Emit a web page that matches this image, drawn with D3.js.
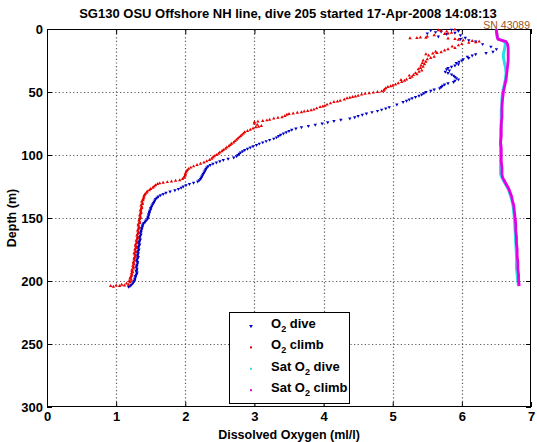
<!DOCTYPE html>
<html><head><meta charset="utf-8">
<script src="https://cdn.jsdelivr.net/npm/d3@7"></script>
<style>
html,body{margin:0;padding:0;background:#fff;}
text{font-family:"Liberation Sans",Arial,Helvetica,sans-serif;}
</style></head>
<body>
<svg id="chart" width="537" height="442"></svg>
<script>
// ---------------- DATA ----------------
const titleText = "SG130 OSU Offshore NH line, dive 205 started 17-Apr-2008 14:08:13";
const serialText = "SN 43089";
const xLabel = "Dissolved Oxygen (ml/l)";
const yLabel = "Depth (m)";
const xTicks = [0,1,2,3,4,5,6,7];
const yTicks = [0,50,100,150,200,250,300];
const legendNames = ["dive","climb","Sat dive","Sat climb"];

// [depth (m), O2 (ml/l)]
const o2Dive = [
 [0.5,5.85],[1,5.55],[1.5,5.95],[2,5.7],[2.5,5.62],[3,5.9],[3.5,5.5],[4,5.78],[5,5.98],[6,5.66],
 [7,6.05],[8,5.98],[9,6.1],[10,6.2],[12,6.3],[14,6.42],[16,6.5],[18,6.45],[19,6.35],[20,6.2],
 [21,6.15],[22,6.08],[23,6.1],[24,6.02],[25,6.0],[26,5.96],[27,5.92],[28,5.95],[29,5.9],[30,5.85],
 [31,5.8],[32,5.78],[33,5.82],[34,5.76],[35,5.8],[36,5.85],[37,5.88],[38,5.9],[39,5.92],[40,5.95],
 [41,5.9],[42,5.88],[43,5.8],[44,5.75],[45,5.72],[46,5.7],[47,5.68],[48,5.6],[49,5.55],[50,5.48],
 [51,5.45],[52,5.42],[53,5.38],[54,5.33],[55,5.28],[56,5.24],[57,5.2],[58,5.15],[60,5.06],[62,4.95],
 [63,4.9],[64,4.84],[65,4.78],[66,4.7],[67,4.62],[68,4.56],[69,4.5],[70,4.45],[71,4.38],[72,4.25],
 [73,4.15],[74,4.06],[75,3.98],[76,3.88],[77,3.78],[78,3.68],[79,3.6],[80,3.54],[81,3.5],[82,3.46],
 [83,3.42],[84,3.38],[85,3.35],[86,3.32],[87,3.28],[88,3.22],[89,3.17],[90,3.12],[91,3.07],[92,3.03],
 [93,2.98],[94,2.94],[95,2.9],[96,2.86],[97,2.83],[98,2.8],[99,2.78],[100,2.76],[101,2.74],[102,2.7],
 [103,2.62],[104,2.55],[105,2.5],[106,2.45],[107,2.4],[108,2.36],[109,2.33],[110,2.31],[111,2.3],[112,2.29],
 [113,2.28],[114,2.27],[115,2.26],[116,2.25],[117,2.24],[118,2.23],[119,2.22],[120,2.2],[121,2.18],[122,2.12],
 [123,2.06],[124,2.01],[125,1.97],[126,1.94],[127,1.9],[128,1.85],[129,1.78],[130,1.72],[131,1.68],[132,1.64],
 [133,1.61],[134,1.59],[135,1.57],[136,1.56],[137,1.55],[138,1.54],[139,1.53],[140,1.52],[141,1.51],[142,1.5],
 [143,1.5],[144,1.49],[145,1.48],[146,1.48],[147,1.47],[148,1.47],[149,1.46],[150,1.46],[151,1.45],[152,1.43],
 [153,1.42],[154,1.4],[155,1.39],[156,1.38],[157,1.38],[158,1.37],[159,1.37],[160,1.36],[161,1.36],[162,1.35],
 [163,1.36],[164,1.35],[165,1.34],[166,1.34],[167,1.35],[168,1.34],[169,1.33],[170,1.33],[171,1.34],[172,1.33],
 [173,1.32],[174,1.32],[175,1.33],[176,1.32],[177,1.31],[178,1.32],[179,1.31],[180,1.31],[181,1.32],[182,1.31],
 [183,1.3],[184,1.3],[185,1.31],[186,1.31],[187,1.3],[188,1.3],[189,1.29],[190,1.3],[191,1.3],[192,1.29],
 [193,1.3],[194,1.3],[195,1.29],[196,1.28],[197,1.28],[198,1.27],[199,1.27],[200,1.26],[201,1.25],[202,1.24],
 [203,1.22],[204,1.2],[204.5,1.18]
];

const o2Climb = [
 [204,0.92],[204.5,0.96],[203.5,1.0],[204,1.05],[203,1.08],[203.5,1.12],[202,1.15],[203,1.18],[201,1.2],[200,1.19],
 [199,1.22],[198,1.2],[197,1.21],[196,1.22],[195,1.23],[194,1.22],[193,1.24],[192,1.23],[191,1.23],[190,1.25],
 [189,1.25],[188,1.24],[187,1.26],[186,1.25],[185,1.25],[184,1.27],[183,1.26],[182,1.26],[181,1.27],[180,1.28],
 [179,1.27],[178,1.26],[177,1.28],[176,1.28],[175,1.27],[174,1.29],[173,1.29],[172,1.28],[171,1.28],[170,1.3],
 [169,1.3],[168,1.29],[167,1.3],[166,1.31],[165,1.31],[164,1.3],[163,1.31],[162,1.32],[161,1.32],[160,1.31],
 [159,1.32],[158,1.33],[157,1.33],[156,1.32],[155,1.32],[154,1.34],[153,1.34],[152,1.33],[151,1.34],[150,1.35],
 [149,1.35],[148,1.34],[147,1.35],[146,1.36],[145,1.36],[144,1.35],[143,1.36],[142,1.37],[141,1.37],[140,1.36],
 [139,1.38],[138,1.38],[137,1.37],[136,1.39],[135,1.39],[134,1.4],[133,1.4],[132,1.41],[131,1.42],[130,1.44],
 [129,1.45],[128,1.48],[127,1.5],[126,1.53],[125,1.55],[124,1.57],[123,1.6],[122.5,1.63],[122,1.68],[121.5,1.74],
 [121,1.8],[120.5,1.86],[120,1.92],[119,1.96],[118,1.98],[117,1.99],[116,2.0],[115,2.0],[114,2.01],[113,2.02],
 [112,2.03],[111,2.05],[110,2.08],[109,2.12],[108,2.17],[107,2.22],[106,2.27],[105,2.31],[104,2.35],[103,2.38],
 [102,2.4],[101,2.42],[100,2.45],[99,2.48],[98,2.5],[97,2.53],[96,2.55],[95,2.58],[94,2.6],[93,2.63],
 [92,2.65],[91,2.67],[90,2.7],[89,2.72],[88,2.74],[87,2.76],[86,2.78],[85,2.8],[84,2.82],[83,2.84],
 [82,2.86],[81,2.9],[80,2.94],[79,2.98],[78,3.02],[77.5,3.06],[77,3.1],[76,3.04],[75,3.0],[74,3.0],
 [73.5,3.05],[73,3.12],[72.5,3.18],[72,3.22],[71,3.28],[70.5,3.34],[70,3.4],[69,3.44],[68,3.47],[67.5,3.5],
 [67,3.56],[66.5,3.62],[66,3.68],[65.5,3.72],[65,3.77],[64.5,3.82],[64,3.86],[63,3.9],[62,3.95],[61.5,3.99],
 [61,4.02],[60,4.05],[59,4.1],[58,4.15],[57.5,4.2],[57,4.24],[56,4.3],[55,4.34],[54.5,4.38],[54,4.42],
 [53.5,4.46],[53,4.5],[52,4.55],[51.5,4.6],[51,4.66],[50.5,4.72],[50,4.78],[49.5,4.84],[49,4.87],[48,4.88],
 [47,4.9],[46,4.93],[45.5,4.97],[45,5.0],[44,5.04],[43,5.08],[42,5.13],[41,5.17],[40.5,5.12],[40,5.2],
 [39,5.25],[38,5.28],[37,5.24],[36.5,5.3],[36,5.35],[35,5.33],[34,5.38],[33,5.42],[32,5.37],[31,5.4],
 [30,5.44],[29,5.41],[28,5.46],[27,5.43],[26,5.48],[25,5.44],[24,5.5],[23,5.55],[22,5.6],[21,5.52],
 [20,5.48],[19.5,5.58],[19,5.64],[18.5,5.7],[18,5.62],[17,5.75],[16,5.8],[15,5.9],[14,5.86],[13,5.95],
 [12,6.0],[11,6.1],[10.5,6.2],[10,6.25],[9.5,6.15],[9,6.02],[8.5,5.95],[8,5.9],[7.5,5.8],[7,5.48],
 [7.2,5.35],[7.4,5.25],[6.8,5.4],[6,5.5],[5,5.6],[4,5.75],[3.5,5.8],[3,5.85],[2,5.78],[1.5,5.7],
 [1,5.66],[0.5,5.9]
];

const satDive = [
 [0,6.5],[4,6.5],[8,6.53],[10,6.62],[12,6.63],[15,6.62],[18,6.61],[20,6.6],[22,6.6],[25,6.61],
 [28,6.62],[30,6.63],[35,6.64],[40,6.63],[45,6.61],[50,6.59],[55,6.58],[60,6.58],[65,6.57],[70,6.57],
 [75,6.57],[80,6.56],[85,6.56],[90,6.56],[95,6.56],[100,6.56],[105,6.56],[110,6.56],[115,6.56],[118,6.58],
 [121,6.61],[124,6.64],[127,6.67],[130,6.69],[135,6.72],[140,6.74],[150,6.76],[160,6.77],[170,6.78],[180,6.79],
 [190,6.79],[200,6.81],[204,6.82]
];

const satClimb = [
 [0,6.5],[2,6.5],[4,6.51],[6,6.51],[8,6.52],[9,6.58],[10,6.64],[12,6.66],[15,6.67],[20,6.67],
 [25,6.67],[30,6.66],[35,6.65],[40,6.64],[45,6.62],[50,6.6],[55,6.59],[60,6.58],[65,6.58],[70,6.58],
 [75,6.57],[80,6.57],[85,6.57],[90,6.56],[95,6.57],[100,6.57],[105,6.57],[110,6.58],[115,6.58],[118,6.59],
 [121,6.62],[124,6.65],[127,6.68],[130,6.7],[133,6.72],[136,6.73],[140,6.75],[145,6.76],[150,6.77],[155,6.78],
 [160,6.78],[165,6.79],[170,6.79],[175,6.8],[180,6.8],[185,6.81],[190,6.81],[195,6.82],[200,6.82],[204,6.83]
];

// ---------------- DRAW ----------------
const svg = d3.select("#chart");
const L = 47, R = 531, T = 29, B = 407;
const x = d3.scaleLinear().domain([0,7]).range([L,R]);
const y = d3.scaleLinear().domain([0,300]).range([T,B]);

const colDive = "#0000c8", colClimb = "#e80000", colSatDive = "#22e0e6", colSatClimb = "#e600e6";

svg.append("rect").attr("x",0).attr("y",0).attr("width",537).attr("height",442).attr("fill","#fff");

// grid: dotted lines at each tick position
const grid = svg.append("g").attr("class","grid");
grid.selectAll("line.gx").data(xTicks.filter(t=>t>0&&t<7)).join("line").attr("class","gx")
  .attr("x1",d=>Math.round(x(d))+0.5).attr("x2",d=>Math.round(x(d))+0.5).attr("y1",T+1).attr("y2",B-1)
  .attr("stroke","#5a5a5a").attr("stroke-width",1.2).attr("stroke-dasharray","1.2 2.4");
grid.selectAll("line.gy").data(yTicks.filter(t=>t>0&&t<300)).join("line").attr("class","gy")
  .attr("y1",d=>Math.round(y(d))+0.5).attr("y2",d=>Math.round(y(d))+0.5).attr("x1",L+1).attr("x2",R-1)
  .attr("stroke","#5a5a5a").attr("stroke-width",1.2).attr("stroke-dasharray","1.2 2.4");

// axes
function styleAxis(g){
  g.select(".domain").remove();
  g.selectAll(".tick line").attr("stroke","#000");
  g.selectAll(".tick text").attr("font-size","13px").attr("font-weight","bold").attr("fill","#000")
    .attr("font-family","'Liberation Sans',Arial,sans-serif");
}
svg.append("g").attr("transform",`translate(0,${B})`)
  .call(d3.axisBottom(x).tickValues(xTicks).tickFormat(d3.format("d")).tickSizeInner(-5).tickSizeOuter(0).tickPadding(5))
  .call(styleAxis);
svg.append("g").attr("transform",`translate(0,${T})`)
  .call(d3.axisTop(x).tickValues(xTicks).tickFormat("").tickSizeInner(-5).tickSizeOuter(0))
  .call(styleAxis);
svg.append("g").attr("transform",`translate(${L},0)`)
  .call(d3.axisLeft(y).tickValues(yTicks).tickFormat(d3.format("d")).tickSizeInner(-5).tickSizeOuter(0).tickPadding(4))
  .call(styleAxis);
svg.append("g").attr("transform",`translate(${R},0)`)
  .call(d3.axisRight(y).tickValues(yTicks).tickFormat("").tickSizeInner(-5).tickSizeOuter(0))
  .call(styleAxis);

// frame
svg.append("rect").attr("x",L+0.5).attr("y",T+0.5).attr("width",R-L-1).attr("height",B-T-1)
  .attr("fill","none").attr("stroke","#000").attr("stroke-width",1);

// data
const plot = svg.append("g");
const tri = d3.symbol().type(d3.symbolTriangle).size(5);
plot.selectAll("path.dive").data(o2Dive).join("path").attr("class","dive")
  .attr("d",tri).attr("fill",colDive)
  .attr("transform",d=>`translate(${x(d[1])},${y(d[0])}) rotate(180)`);
plot.selectAll("path.climb").data(o2Climb).join("path").attr("class","climb")
  .attr("d",tri).attr("fill",colClimb)
  .attr("transform",d=>`translate(${x(d[1])},${y(d[0])})`);

const line = d3.line().x(d=>x(d[1])).y(d=>y(d[0]));
plot.append("path").datum(satDive).attr("d",line).attr("fill","none")
  .attr("stroke",colSatDive).attr("stroke-width",3).attr("stroke-linejoin","round");
plot.append("path").datum(satClimb).attr("d",line).attr("fill","none")
  .attr("stroke",colSatClimb).attr("stroke-width",2.8).attr("stroke-linejoin","round");

// title
svg.append("text").attr("x",(L+R)/2 - 1).attr("y",18).attr("text-anchor","middle")
  .attr("font-size","13px").attr("font-weight","bold").text(titleText);
svg.append("text").attr("x",R-1).attr("y",29).attr("text-anchor","end")
  .attr("font-size","10.5px").attr("fill","#a0521e").text(serialText);

// axis titles
svg.append("text").attr("x",(L+R)/2).attr("y",439).attr("text-anchor","middle")
  .attr("font-size","12.5px").attr("font-weight","bold").text(xLabel);
svg.append("text").attr("transform",`translate(16,${(T+B)/2}) rotate(-90)`).attr("text-anchor","middle")
  .attr("font-size","12.5px").attr("font-weight","bold").text(yLabel);

// legend
const lg = svg.append("g");
lg.append("rect").attr("x",229.5).attr("y",312.5).attr("width",120).attr("height",91)
  .attr("fill","#fff").attr("stroke","#000").attr("stroke-width",1);
const legColors = [colDive,colClimb,colSatDive,colSatClimb];
const legPrefix = ["","","Sat ","Sat "];
const legSuffix = [" dive"," climb"," dive"," climb"];
legendNames.forEach((n,i)=>{
  const cy = 325 + i*21.4;
  if(i===0){
    lg.append("path").attr("d",d3.symbol().type(d3.symbolTriangle).size(6)).attr("fill",legColors[i])
      .attr("transform",`translate(251,${cy+1}) rotate(180)`);
  } else {
    lg.append("rect").attr("x",250).attr("y",cy).attr("width",2).attr("height",2).attr("fill",legColors[i]);
  }
  const t = lg.append("text").attr("x",271).attr("y",cy+3).attr("font-size","13px").attr("font-weight","bold");
  t.append("tspan").text(legPrefix[i]+"O");
  t.append("tspan").attr("font-size","9px").attr("dy",4).text("2");
  t.append("tspan").attr("dy",-4).text(legSuffix[i]);
});
</script>
</body></html>
